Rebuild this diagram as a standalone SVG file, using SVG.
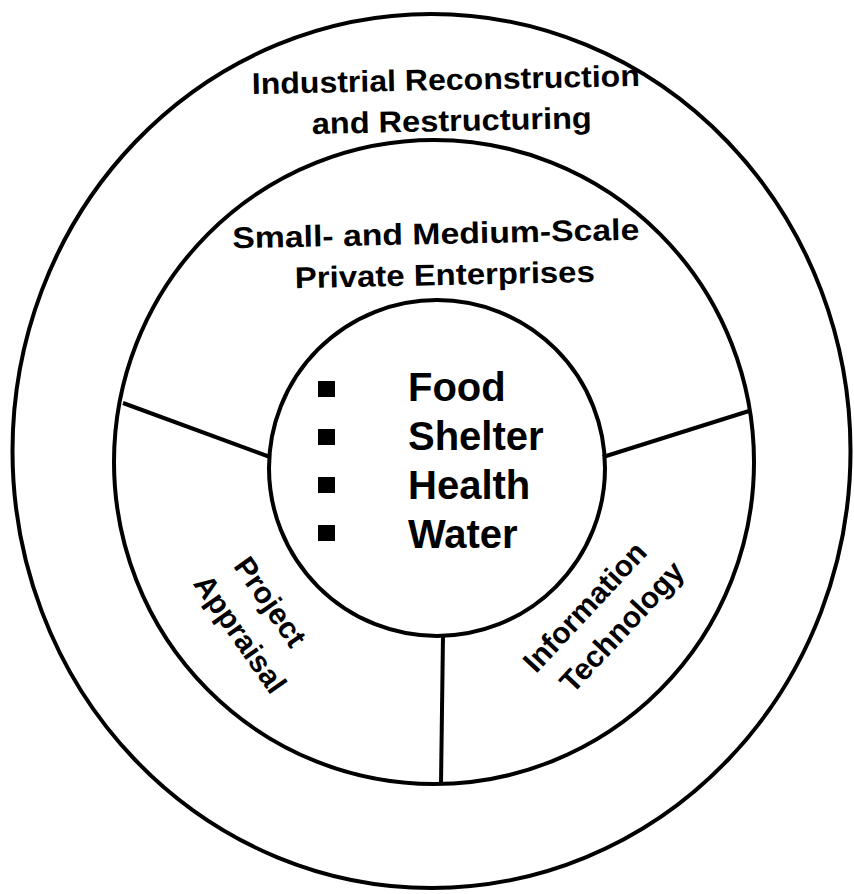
<svg xmlns="http://www.w3.org/2000/svg" width="854" height="894" viewBox="0 0 854 894">
  <style>
    .ring { fill: none; stroke: #000; stroke-width: 4; }
    .spoke { stroke: #000; stroke-width: 4; fill: none; }
    .head { font-family: "Liberation Sans Narrow", "Liberation Sans", Arial, sans-serif; font-weight: bold; font-size: 30px; fill: #000; text-anchor: middle; }
    .item { font-family: "Liberation Sans", Arial, sans-serif; font-weight: bold; font-size: 40px; fill: #000; }
    .seg { font-family: "Liberation Sans", Arial, sans-serif; font-weight: bold; font-size: 30px; fill: #000; text-anchor: middle; }
    .bullet { fill: #000; }
  </style>
  <rect width="854" height="894" fill="#fff"/>

  <g id="outer-ring">
    <ellipse class="ring" cx="431.5" cy="451" rx="419" ry="437"/>
    <text class="head" x="446" y="90" textLength="388" lengthAdjust="spacingAndGlyphs" transform="rotate(-1.2 446 90)">Industrial Reconstruction</text>
    <text class="head" x="452" y="131" textLength="280" lengthAdjust="spacingAndGlyphs" transform="rotate(-1.2 452 131)">and Restructuring</text>
  </g>

  <g id="middle-ring">
    <ellipse class="ring" cx="434" cy="462" rx="320" ry="322"/>
    <text class="head" x="436" y="244" textLength="407" lengthAdjust="spacingAndGlyphs" transform="rotate(-1.2 436 244)">Small- and Medium-Scale</text>
    <text class="head" x="445" y="285" textLength="300" lengthAdjust="spacingAndGlyphs" transform="rotate(-1.2 445 285)">Private Enterprises</text>
  </g>

  <g id="connectors">
    <line class="spoke" x1="123" y1="403" x2="270" y2="457"/>
    <line class="spoke" x1="603" y1="457" x2="749" y2="411"/>
    <line class="spoke" x1="443" y1="636" x2="441" y2="784" stroke-width="3"/>
  </g>

  <g id="inner-core">
    <ellipse class="ring" cx="437" cy="468" rx="168" ry="168"/>
    <rect class="bullet" x="318" y="381" width="17" height="16"/>
    <rect class="bullet" x="318" y="429" width="17" height="16"/>
    <rect class="bullet" x="318" y="477" width="17" height="16"/>
    <rect class="bullet" x="318" y="525" width="17" height="16"/>
    <text class="item" x="408" y="401">Food</text>
    <text class="item" x="408" y="450">Shelter</text>
    <text class="item" x="408" y="499">Health</text>
    <text class="item" x="408" y="548">Water</text>
  </g>

  <g id="project-appraisal">
    <text class="seg" transform="translate(270,602) rotate(55)" x="0" y="10">Project</text>
    <text class="seg" transform="translate(240,634) rotate(55)" x="0" y="10">Appraisal</text>
  </g>

  <g id="information-technology">
    <text class="seg" transform="translate(585,607) rotate(-47)" x="0" y="10">Information</text>
    <text class="seg" transform="translate(622,627) rotate(-47)" x="0" y="10">Technology</text>
  </g>
</svg>
